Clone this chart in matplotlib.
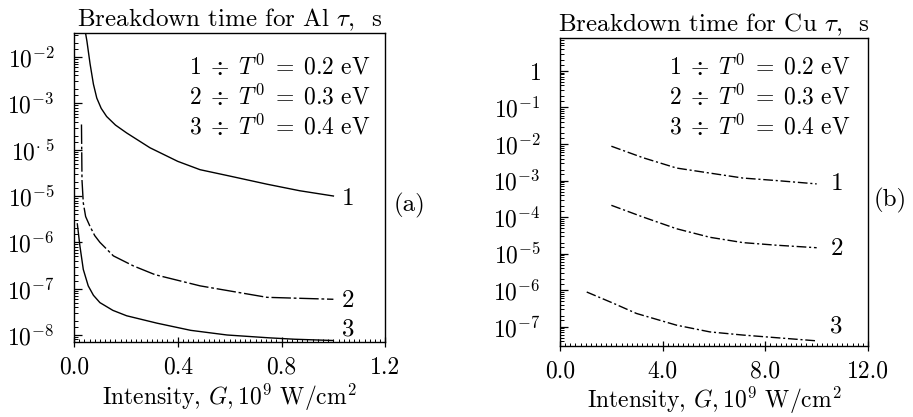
import matplotlib
matplotlib.use("Agg")
import matplotlib.pyplot as plt
from matplotlib.ticker import FixedLocator, MultipleLocator, LogLocator, NullFormatter

plt.rcParams['font.family'] = 'serif'
plt.rcParams['font.serif'] = ['cmr10', 'DejaVu Serif']
plt.rcParams['mathtext.fontset'] = 'cm'
plt.rcParams['axes.formatter.use_mathtext'] = True

# ---- panel (a): Al ----
al_x1 = [0.036, 0.050, 0.062, 0.075, 0.088, 0.105, 0.126, 0.160, 0.203, 0.293, 0.40, 0.486, 0.60, 0.744, 0.87, 1.0]
al_y1 = [6.3e-2, 2.2e-2, 7.2e-3, 2.6e-3, 1.3e-3, 7.8e-4, 5.2e-4, 3.4e-4, 2.3e-4, 1.1e-4, 5.6e-5, 3.7e-5, 2.7e-5, 1.8e-5, 1.3e-5, 1.0e-5]
al_x2 = [0.029, 0.031, 0.036, 0.045, 0.062, 0.08, 0.10, 0.152, 0.229, 0.313, 0.486, 0.744, 1.0]
al_y2 = [3.5e-4, 2.2e-5, 7.1e-6, 3.6e-6, 2.2e-6, 1.4e-6, 1.0e-6, 5.1e-7, 3.1e-7, 2.0e-7, 1.15e-7, 6.5e-8, 5.9e-8]
al_x3 = [0.013, 0.023, 0.036, 0.055, 0.075, 0.10, 0.15, 0.203, 0.32, 0.45, 0.59, 0.75, 0.85, 1.0]
al_y3 = [2.5e-6, 8.3e-7, 2.6e-7, 1.15e-7, 7.2e-8, 5.0e-8, 3.4e-8, 2.6e-8, 1.8e-8, 1.26e-8, 1.0e-8, 8.7e-9, 8.1e-9, 7.6e-9]
al_yticks = [1e-2, 1e-3, 1e-4, 1e-5, 1e-6, 1e-7, 1e-8]
al_yticklabels = [r'$10^{-2}$', r'$10^{-3}$', r'$10^{\cdot\ 5}$', r'$10^{-5}$',
                  r'$10^{-6}$', r'$10^{-7}$', r'$10^{-8}$']
al_xticks = [0.0, 0.4, 0.8, 1.2]

# ---- panel (b): Cu ----
cu_x1 = [2.0, 3.24, 4.54, 5.84, 7.13, 8.43, 10.0]
cu_y1 = [8.7e-3, 4.2e-3, 2.2e-3, 1.6e-3, 1.17e-3, 1.0e-3, 8.1e-4]
cu_x2 = [2.0, 3.24, 4.54, 5.84, 7.13, 8.43, 10.0]
cu_y2 = [2.1e-4, 1.0e-4, 4.8e-5, 2.8e-5, 2.0e-5, 1.7e-5, 1.45e-5]
cu_x3 = [1.04, 2.07, 2.98, 4.54, 5.84, 7.13, 8.43, 10.0]
cu_y3 = [8.9e-7, 4.4e-7, 2.3e-7, 1.1e-7, 7.2e-8, 5.9e-8, 5.0e-8, 4.1e-8]
cu_yticks = [1, 1e-1, 1e-2, 1e-3, 1e-4, 1e-5, 1e-6, 1e-7]
cu_yticklabels = [r'$1$', r'$10^{-1}$', r'$10^{-2}$', r'$10^{-3}$',
                  r'$10^{-4}$', r'$10^{-5}$', r'$10^{-6}$', r'$10^{-7}$']
cu_xticks = [0.0, 4.0, 8.0, 12.0]

legend_lines = [r'$1\;\div\;T^0\;=\;0.2\ \mathrm{eV}$',
                r'$2\;\div\;T^0\;=\;0.3\ \mathrm{eV}$',
                r'$3\;\div\;T^0\;=\;0.4\ \mathrm{eV}$']

fig = plt.figure(figsize=(9.13, 4.17), dpi=100)
axa = fig.add_axes([0.081, 0.180, 0.341, 0.741])
axb = fig.add_axes([0.6134, 0.171, 0.3373, 0.7386])


def style_axes(ax, xticks, xlim, xminor, yticks, ylabels, ylim, xfmt):
    ax.set_yscale('log')
    ax.set_xlim(*xlim)
    ax.set_ylim(*ylim)
    ax.yaxis.set_major_locator(FixedLocator(yticks))
    ax.set_yticklabels(ylabels)
    ax.yaxis.set_minor_locator(LogLocator(base=10, subs=[1.5, 2, 3, 4, 5, 6, 7, 8, 9], numticks=40))
    ax.yaxis.set_minor_formatter(NullFormatter())
    ax.set_xticks(xticks)
    ax.set_xticklabels([xfmt % t for t in xticks])
    ax.xaxis.set_minor_locator(MultipleLocator(xminor))
    ax.tick_params(axis='y', which='major', direction='in', length=6, width=0.9,
                   labelsize=17, pad=14, right=False)
    ax.tick_params(axis='y', which='minor', direction='in', length=3, width=0.7, right=False)
    ax.tick_params(axis='x', which='major', direction='inout', length=7, width=0.9,
                   labelsize=17, pad=7, top=False)
    ax.tick_params(axis='x', which='minor', direction='in', length=2.5, width=0.7, top=False)
    for s in ax.spines.values():
        s.set_linewidth(1.0)
    ax.set_xlabel(r'Intensity, $G, 10^9$ W/cm$^2$', fontsize=17, labelpad=2)


style_axes(axa, al_xticks, (0.0, 1.2), 0.02, al_yticks, al_yticklabels,
           (10 ** -8.15, 10 ** -1.48), '%.1f')
style_axes(axb, cu_xticks, (0.0, 12.0), 0.2, cu_yticks, cu_yticklabels,
           (10 ** -7.52, 10 ** 0.91), '%.1f')

axa.set_title(r'Breakdown time for Al $\tau$,  s', fontsize=18, pad=3)
axb.set_title(r'Breakdown time for Cu $\tau$,  s', fontsize=18, pad=3)

# curves
axa.plot(al_x1, al_y1, color='black', lw=1.0)
axa.plot(al_x2, al_y2, color='black', lw=1.0, ls=(0, (14, 2, 2, 2)))
axa.plot(al_x3, al_y3, color='black', lw=1.0)
dash = (0, (7, 2, 1.5, 2))
axb.plot(cu_x1, cu_y1, color='black', lw=1.0, ls=dash)
axb.plot(cu_x2, cu_y2, color='black', lw=1.0, ls=dash)
axb.plot(cu_x3, cu_y3, color='black', lw=1.0, ls=dash)

# curve numbers at the right ends
for ax, xs, ys, dys, dx in [
        (axa, [al_x1, al_x2, al_x3], [al_y1, al_y2, al_y3], [-3, -2, 11], 15),
        (axb, [cu_x1, cu_x2, cu_x3], [cu_y1, cu_y2, cu_y3], [0, -1, 14], 20)]:
    for i in range(3):
        ax.annotate(str(i + 1), xy=(xs[i][-1], ys[i][-1]), xytext=(dx, dys[i]),
                    textcoords='offset pixels', ha='center', va='center', fontsize=18)

# legend text
for ax, xr, ypos in [(axa, 0.952, [0.891, 0.794, 0.697]),
                     (axb, 0.942, [0.906, 0.808, 0.711])]:
    for txt, yy in zip(legend_lines, ypos):
        ax.text(xr, yy, txt, transform=ax.transAxes, ha='right', va='center', fontsize=17)

fig.text(0.449, 0.508, '(a)', ha='center', va='center', fontsize=18)
fig.text(0.975, 0.520, '(b)', ha='center', va='center', fontsize=18)

fig.savefig('out.png', dpi=100)
